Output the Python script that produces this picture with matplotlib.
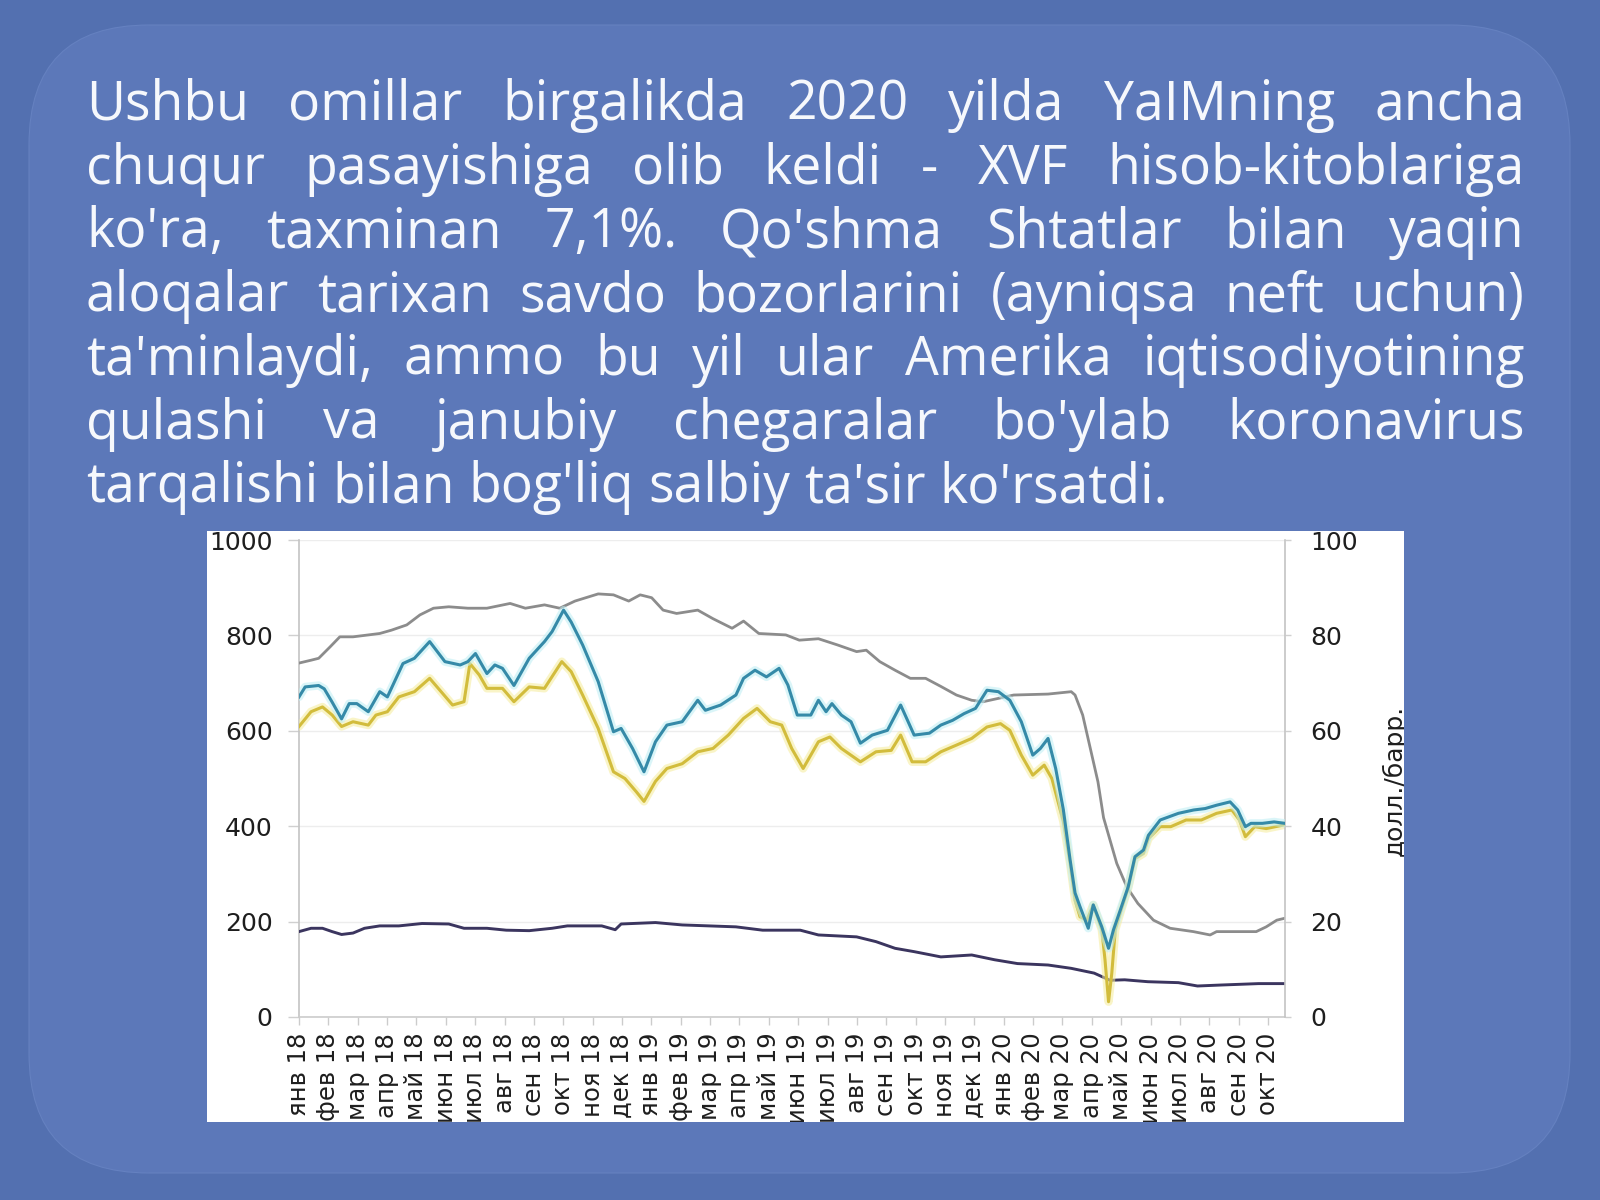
import matplotlib
matplotlib.use('Agg')
import matplotlib.pyplot as plt
from matplotlib.patches import FancyBboxPatch, Rectangle
from matplotlib.transforms import Bbox, TransformedBbox

# ---------------- data ----------------
months = ['янв', 'фев', 'мар', 'апр', 'май', 'июн', 'июл', 'авг', 'сен', 'окт', 'ноя', 'дек']
years = ['18', '19', '20']
n_months = 34  # янв 18 ... окт 20
tick_labels = [f"{months[i % 12]} {years[i // 12]}" for i in range(n_months)]

# time axis: months since Jan 2018
blue_t = [0.00, 0.21, 0.67, 0.86, 1.13, 1.45, 1.71, 1.97, 2.36, 2.75, 3.01, 3.54, 3.93, 4.45, 4.97,
          5.49, 5.75, 6.01, 6.40, 6.67, 6.93, 7.32, 7.84, 8.36, 8.62, 9.01, 9.27, 9.66, 10.19, 10.71,
          10.97, 11.36, 11.75, 12.14, 12.53, 13.05, 13.58, 13.84, 14.36, 14.88, 15.14, 15.53, 15.92,
          16.35, 16.65, 16.97, 17.43, 17.69, 17.95, 18.15, 18.47, 18.80, 19.12, 19.52, 20.04, 20.49,
          20.95, 21.47, 21.86, 22.26, 22.65, 23.04, 23.43, 23.82, 24.21, 24.60, 24.99, 25.25, 25.51,
          25.77, 26.03, 26.26, 26.43, 26.60, 26.88, 27.05, 27.34, 27.57, 27.74, 27.97, 28.24, 28.47,
          28.76, 28.93, 29.33, 29.95, 30.47, 30.86, 31.25, 31.71, 31.97, 32.23, 32.42, 32.81, 33.21,
          33.57]
blue_v = [67.1, 69.2, 69.5, 68.8, 66.0, 62.5, 65.7, 65.7, 64.0, 68.2, 67.1, 74.1, 75.2, 78.7, 74.5,
          73.8, 74.5, 76.2, 72.0, 73.8, 73.1, 69.5, 75.2, 78.7, 80.8, 85.3, 82.8, 78.0, 70.3, 59.8,
          60.5, 56.3, 51.4, 57.7, 61.2, 61.9, 66.4, 64.3, 65.4, 67.5, 71.0, 72.7, 71.3,
          73.1, 69.6, 63.3, 63.3, 66.4, 64.0, 65.7, 63.3, 61.9, 57.4, 59.1, 60.1, 65.4,
          59.1, 59.5, 61.2, 62.2, 63.6, 64.7, 68.5, 68.2, 66.4, 61.9, 54.9, 56.3, 58.4,
          52.1, 43.5, 33.0, 26.0, 23.1, 18.6, 23.5, 18.9, 14.4, 18.3, 22.4, 27.3, 33.6,
          35.0, 38.1, 41.3, 42.7, 43.4, 43.7, 44.4, 45.1, 43.4, 39.9, 40.6, 40.6, 40.9,
          40.6]

yellow_t = [0.00, 0.41, 0.80, 1.13, 1.45, 1.84, 2.36, 2.62, 3.01, 3.40, 3.93, 4.45, 4.84, 5.23, 5.62,
            5.82, 6.14, 6.40, 6.93, 7.32, 7.84, 8.36, 8.95, 9.27, 9.66, 10.19, 10.71, 11.10, 11.49,
            11.75, 12.14, 12.53, 13.05, 13.58, 14.10, 14.62, 15.14, 15.60, 16.05, 16.44, 16.78, 17.17,
            17.69, 18.08, 18.47, 19.12, 19.65, 20.17, 20.49, 20.88, 21.34, 21.86, 22.39, 22.91, 23.43,
            23.89, 24.21, 24.60, 24.99, 25.38, 25.64, 26.03, 26.26, 26.43, 26.60, 26.83, 27.05, 27.34,
            27.45, 27.57, 27.68, 27.80, 28.02, 28.24, 28.47, 28.76, 28.93, 29.33, 29.69, 30.21, 30.73,
            31.25, 31.77, 32.03, 32.23, 32.55, 32.94, 33.57]
yellow_v = [60.9, 64.0, 65.0, 63.3, 60.9, 61.9, 61.2, 63.3, 64.0, 67.1, 68.2, 71.0, 68.2, 65.4, 66.1,
            74.1, 71.7, 68.9, 68.9, 66.1, 69.2, 68.9, 74.5, 72.4, 67.5, 60.5, 51.4, 50.0, 47.2,
            45.2, 49.4, 52.1, 53.1, 55.6, 56.3, 59.1, 62.6, 64.7, 61.9, 61.2, 56.3, 52.1,
            57.7, 58.7, 56.3, 53.5, 55.6, 55.9, 59.1, 53.5, 53.5, 55.6, 57.0, 58.4, 60.8,
            61.5, 60.1, 54.9, 50.7, 52.8, 50.0, 41.0, 32.2, 24.5, 21.0, 20.3, 23.5, 18.3,
            12.0, 3.2, 9.1, 18.3, 22.8, 27.0, 33.2, 34.3, 37.4, 39.9, 39.9, 41.3, 41.3,
            42.7, 43.4, 41.3, 37.8, 39.9, 39.5, 40.3]

gray_t = [0.00, 0.41, 0.67, 1.06, 1.39, 1.84, 2.36, 2.75, 3.15, 3.67, 4.12, 4.58, 5.10, 5.75, 6.40,
          7.19, 7.71, 8.36, 8.88, 9.40, 10.19, 10.71, 11.23, 11.62, 12.01, 12.40, 12.86, 13.58, 14.10,
          14.75, 15.14, 15.66, 16.58, 17.04, 17.69, 18.34, 18.99, 19.32, 19.78, 20.30, 20.82, 21.34,
          21.86, 22.39, 22.91, 23.30, 24.34, 25.51, 26.30, 26.43, 26.69, 26.95, 27.21, 27.40, 27.85,
          28.19, 28.57, 29.10, 29.67, 30.46, 31.03, 31.25, 32.60, 32.94, 33.30, 33.57]
gray_v = [742, 748, 752, 776, 797, 797, 801, 804, 811, 822, 843, 857, 860, 857, 857,
          867, 857, 864, 857, 872, 887, 885, 872, 885, 879, 853, 846, 853, 835,
          815, 830, 804, 801, 790, 793, 780, 766, 769, 745, 727, 710, 710,
          693, 675, 664, 661, 675, 677, 682, 675, 633, 563, 493, 418, 322,
          273, 238, 203, 186, 179, 172, 179, 179, 189, 203, 207]

purple_t = [0.00, 0.41, 0.80, 1.13, 1.45, 1.84, 2.23, 2.75, 3.40, 4.19, 5.10, 5.62, 6.40, 7.06, 7.84,
            8.62, 9.14, 10.31, 10.77, 10.97, 12.14, 13.05, 14.88, 15.79, 17.07, 17.69, 18.99, 19.65,
            20.30, 20.95, 21.86, 22.91, 23.69, 24.47, 25.51, 26.30, 27.08, 27.62, 28.12, 28.91, 29.95,
            30.60, 31.38, 32.68, 33.57]
purple_v = [179, 186, 186, 179, 173, 176, 186, 191, 191, 196, 195, 186, 186, 182, 181,
            186, 191, 191, 183, 195, 198, 193, 189, 182, 182, 172, 168, 158,
            144, 137, 126, 130, 120, 112, 109, 102, 92, 77, 78, 74, 72,
            65, 67, 70, 70]

left_ticks = [0, 200, 400, 600, 800, 1000]
right_ticks = [0, 20, 40, 60, 80, 100]
right_label = 'долл./барр.'

paragraph = [
    "Ushbu omillar birgalikda 2020 yilda YaIMning ancha",
    "chuqur pasayishiga olib keldi - XVF hisob-kitoblariga",
    "ko'ra, taxminan 7,1%. Qo'shma Shtatlar bilan yaqin",
    "aloqalar tarixan savdo bozorlarini (ayniqsa neft uchun)",
    "ta'minlaydi, ammo bu yil ular Amerika iqtisodiyotining",
    "qulashi va janubiy chegaralar bo'ylab koronavirus",
    "tarqalishi bilan bog'liq salbiy ta'sir ko'rsatdi.",
]

# ---------------- figure ----------------
W, H = 1600, 1200
plt.rcParams['font.family'] = ['DejaVu Sans']
fig = plt.figure(figsize=(W / 100, H / 100), dpi=100)
fig.patch.set_facecolor('#5370b0')
inch = fig.dpi_scale_trans


def box_in(x0, y0, x1, y1):
    """pixel box (top-left origin) -> inches (bottom-left origin)"""
    return x0 / 100, (H - y1) / 100, (x1 - x0) / 100, (y1 - y0) / 100


bx, by, bw, bh = box_in(29, 25, 1570, 1173)
panel = FancyBboxPatch((bx, by), bw, bh, boxstyle='round,pad=0,rounding_size=1.2',
                       transform=inch, facecolor='#5c78b9', edgecolor='#6581c0', lw=0.8, zorder=-3)
fig.patches.append(panel)

wx, wy, ww, wh = box_in(207, 531, 1404, 1122)
white = Rectangle((wx, wy), ww, wh, transform=inch, facecolor='white', edgecolor='none', zorder=-2)
fig.patches.append(white)
clipbb = TransformedBbox(Bbox.from_bounds(wx, wy, ww, wh), inch)

# ---------------- justified paragraph ----------------
renderer = fig.canvas.get_renderer()
text_left, text_right = 86, 1525
last_width = 1082
base0, line_step = 120, 63.7
tfont = dict(family=['Open Sans', 'DejaVu Sans'], color='#f6f8fc')

probe = fig.text(0, 0, paragraph[-1], fontsize=36, **tfont)
fs = 36 * last_width / probe.get_window_extent(renderer).width
probe.remove()
sp = fig.text(0, 0, 'a a', fontsize=fs, **tfont)
sp2 = fig.text(0, 0, 'aa', fontsize=fs, **tfont)
space_w = sp.get_window_extent(renderer).width - sp2.get_window_extent(renderer).width
sp.remove(); sp2.remove()

for i, line in enumerate(paragraph):
    ybase = 1 - (base0 + i * line_step) / H
    words = line.split(' ')
    arts = [fig.text(0, ybase, w, fontsize=fs, va='baseline', ha='left', **tfont) for w in words]
    widths = [a.get_window_extent(renderer).width for a in arts]
    if i < len(paragraph) - 1 and len(words) > 1:
        gap = (text_right - text_left - sum(widths)) / (len(words) - 1)
    else:
        gap = space_w
    x = text_left
    for a, w in zip(arts, widths):
        a.set_x(x / W)
        x += w + gap

# ---------------- chart ----------------
ax_l, ax_r, ax_b, ax_t = 299, 1285, 1017, 540
ax = fig.add_axes([ax_l / W, 1 - ax_b / H, (ax_r - ax_l) / W, (ax_b - ax_t) / H])
ax.set_facecolor('none')
ax2 = ax.twinx()
ax2.set_facecolor('none')

ax.plot(gray_t, gray_v, color='#8c8c8c', lw=2.0, zorder=3)
ax.plot(purple_t, purple_v, color='#3b355f', lw=2.1, zorder=3)

ax2.plot(yellow_t, yellow_v, color='#f5ec9a', lw=6, alpha=0.55, zorder=2, solid_capstyle='round')
ax2.plot(yellow_t, yellow_v, color='#d2bc3c', lw=2.2, zorder=3)
ax2.plot(blue_t, blue_v, color='#bdeef4', lw=6, alpha=0.55, zorder=4, solid_capstyle='round')
ax2.plot(blue_t, blue_v, color='#358aa8', lw=2.2, zorder=5)

ax.set_xlim(0, 33.58)
ax.set_ylim(0, 1000)
ax2.set_ylim(0, 100)
ax.set_yticks(left_ticks)
ax2.set_yticks(right_ticks)
ax.set_xticks(range(n_months))
ax.set_xticklabels(tick_labels, rotation=90)

ax.yaxis.grid(True, color='#ededed', lw=1.0)
ax.set_axisbelow(True)

for s in ['top', 'right']:
    ax.spines[s].set_visible(False)
for s in ['top', 'left', 'bottom']:
    ax2.spines[s].set_visible(False)
ax.spines['left'].set_color('#c4c4c4')
ax.spines['bottom'].set_color('#cccccc')
ax2.spines['right'].set_color('#c4c4c4')
for sp_ in (ax.spines['left'], ax.spines['bottom'], ax2.spines['right']):
    sp_.set_linewidth(1.2)

tc = '#1e1e1e'
ax.tick_params(axis='y', length=7.9, width=1, color='#d0d0d0', pad=11, labelsize=18, labelcolor=tc)
ax.tick_params(axis='x', length=5.8, width=1, color='#cccccc', pad=5.5, labelsize=17.5, labelcolor=tc)
ax2.tick_params(axis='y', length=4.3, width=1, color='#d0d0d0', pad=14, labelsize=18, labelcolor=tc)

for lbl in ax.get_xticklabels() + ax.get_yticklabels() + ax2.get_yticklabels():
    lbl.set_clip_box(clipbb)
    lbl.set_clip_on(True)

yl = fig.text(1402 / W, 1 - 780 / H, right_label, rotation=90, rotation_mode='anchor',
              ha='center', va='baseline', fontsize=18, color=tc)
yl.set_clip_box(clipbb)
yl.set_clip_on(True)

fig.savefig('out.png', dpi=100, facecolor=fig.get_facecolor())
